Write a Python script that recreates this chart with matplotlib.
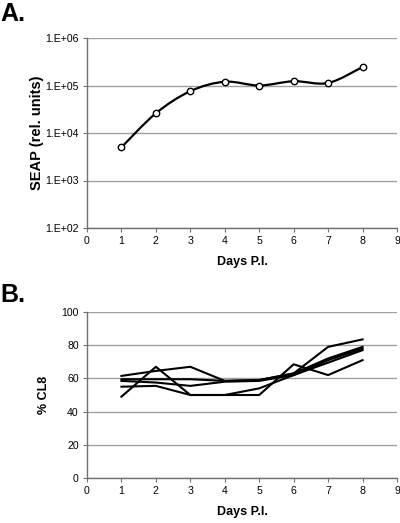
import numpy as np
import matplotlib
matplotlib.use("Agg")
import matplotlib.pyplot as plt
from matplotlib.path import Path
from matplotlib.patches import PathPatch

plt.rcParams['font.family'] = ['Liberation Sans', 'DejaVu Sans']

# === Data ===
days = [1, 2, 3, 4, 5, 6, 7, 8]
seap = [5000, 26000, 76000, 120000, 100000, 123000, 113000, 245000]

cl8_1 = [61.5, 64.5, 67, 58.5, 59, 63, 72, 79]
cl8_2 = [49, 67, 50, 50, 50, 68.5, 62, 71]
cl8_3 = [55, 55.5, 50, 50, 54, 62, 69.5, 77]
cl8_4 = [59.5, 59.5, 59.5, 58.5, 59, 63, 79, 83.5]
cl8_5 = [58.5, 57.5, 55.5, 58, 58.5, 62, 71, 78]
cl8_series = [cl8_1, cl8_2, cl8_3, cl8_4, cl8_5]

xticks = list(range(0, 10))
seap_ticks = [1e2, 1e3, 1e4, 1e5, 1e6]
seap_ticklabels = ["1.E+02", "1.E+03", "1.E+04", "1.E+05", "1.E+06"]
cl8_ticks = [0, 20, 40, 60, 80, 100]

GRID = "#a0a0a0"
SPINE = "#707070"


def smooth_path(x, y):
    # Excel-style smoothed line: Catmull-Rom segments as cubic Beziers, in (x, log y)
    x = np.asarray(x, float)
    ly = np.log10(np.asarray(y, float))
    pts = np.column_stack([x, ly])
    n = len(pts)
    verts = [pts[0]]
    codes = [Path.MOVETO]
    for i in range(n - 1):
        p0 = pts[i - 1] if i > 0 else pts[i]
        p1 = pts[i]
        p2 = pts[i + 1]
        p3 = pts[i + 2] if i + 2 < n else pts[i + 1]
        c1 = p1 + (p2 - p0) / 6.0
        c2 = p2 - (p3 - p1) / 6.0
        verts += [c1, c2, p2]
        codes += [Path.CURVE4] * 3
    verts = np.array(verts)
    verts[:, 1] = 10 ** verts[:, 1]
    return Path(verts, codes)


def style_axes(ax):
    for side in ["top", "right"]:
        ax.spines[side].set_visible(False)
    for side in ["left", "bottom"]:
        ax.spines[side].set_color(SPINE)
        ax.spines[side].set_linewidth(1.0)
    ax.tick_params(axis="both", which="major", direction="out", length=3,
                   width=0.8, color=SPINE, labelsize=7.6, pad=3)
    ax.tick_params(axis="both", which="minor", length=0)
    ax.yaxis.grid(True, color=GRID, linewidth=1.0)
    ax.set_axisbelow(True)


fig = plt.figure(figsize=(4.0, 5.23), dpi=100)
W, H = 400.0, 523.0

# --- Panel A ---
axA = fig.add_axes([87 / W, 1 - 228 / H, 310 / W, 190 / H])
axA.set_yscale("log")
axA.set_xlim(0, 9)
axA.set_ylim(1e2, 1e6)
axA.add_patch(PathPatch(smooth_path(days, seap), facecolor="none",
                        edgecolor="black", linewidth=1.6, zorder=3))
axA.plot(days, seap, linestyle="none", marker="o", markersize=4.6,
         markerfacecolor="white", markeredgecolor="black",
         markeredgewidth=1.0, zorder=4, clip_on=False)
axA.set_xticks(xticks)
axA.set_yticks(seap_ticks)
axA.set_yticklabels(seap_ticklabels)
style_axes(axA)
axA.set_ylabel("SEAP (rel. units)", fontsize=10.5, fontweight="bold", labelpad=1)
axA.set_xlabel("Days P.I.", fontsize=9, fontweight="bold", labelpad=7)

# --- Panel B ---
axB = fig.add_axes([87 / W, 1 - 478 / H, 310 / W, 166 / H])
axB.set_xlim(0, 9)
axB.set_ylim(0, 100)
for s in cl8_series:
    axB.plot(days, s, color="black", linewidth=1.5, zorder=3)
axB.set_xticks(xticks)
axB.set_yticks(cl8_ticks)
style_axes(axB)
axB.set_ylabel("% CL8", fontsize=9, fontweight="bold", labelpad=8)
axB.set_xlabel("Days P.I.", fontsize=9, fontweight="bold", labelpad=7)

# --- Panel letters ---
fig.text(0.0, 1 - 2 / H, "A.", fontsize=18, fontweight="bold", va="top", ha="left")
fig.text(0.0, 1 - 283 / H, "B.", fontsize=18, fontweight="bold", va="top", ha="left")

fig.savefig("out.png", dpi=100)
